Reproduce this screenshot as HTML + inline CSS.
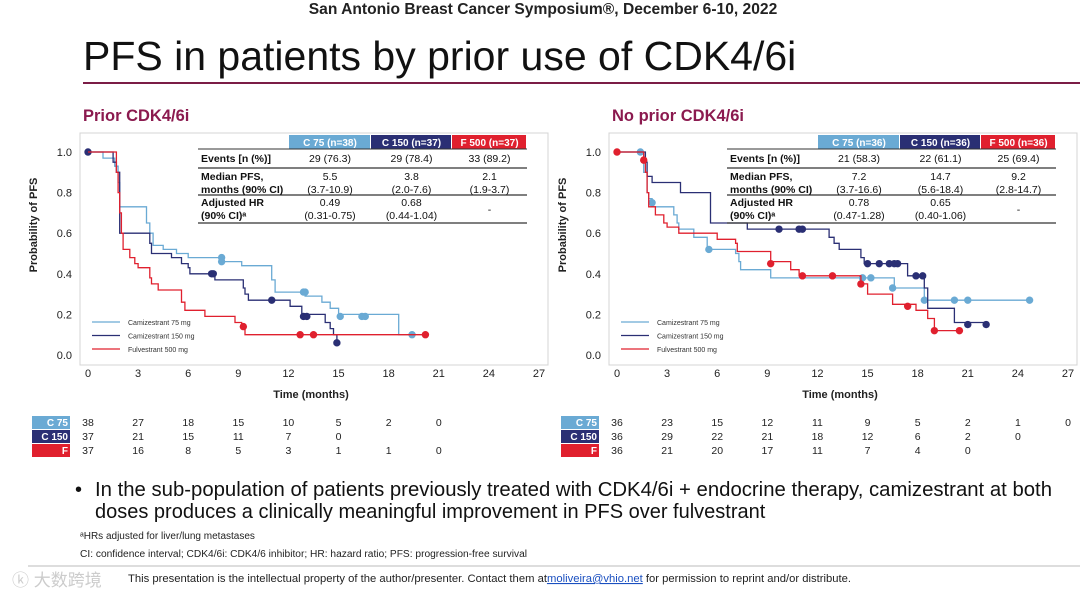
<!DOCTYPE html>
<html><head><meta charset="utf-8"><style>
body{margin:0;width:1080px;height:601px;background:#fff;overflow:hidden;font-family:"Liberation Sans",Arial,sans-serif}
svg{display:block}
text{font-family:"Liberation Sans",Arial,sans-serif}
</style></head><body>
<svg id="s" width="1080" height="601" viewBox="0 0 1080 601" xmlns="http://www.w3.org/2000/svg">
<text x="543" y="14" text-anchor="middle" font-size="15.6" font-weight="bold" fill="#222">San Antonio Breast Cancer Symposium®, December 6-10, 2022</text>
<text x="83" y="70" font-size="41" fill="#111">PFS in patients by prior use of CDK4/6i</text>
<line x1="83" y1="83" x2="1080" y2="83" stroke="#7b1d46" stroke-width="2"/>
<text x="83" y="121" font-size="16.5" font-weight="bold" fill="#8b1a4f">Prior CDK4/6i</text>
<text x="612" y="121" font-size="16.5" font-weight="bold" fill="#8b1a4f">No prior CDK4/6i</text>
<g id="charts"></g>
<text x="75" y="496" font-size="20" fill="#111">•</text>
<text x="95" y="496" font-size="20" fill="#111" textLength="957" lengthAdjust="spacingAndGlyphs">In the sub-population of patients previously treated with CDK4/6i + endocrine therapy, camizestrant at both</text>
<text x="95" y="518" font-size="20" fill="#111">doses produces a clinically meaningful improvement in PFS over fulvestrant</text>
<text x="80" y="539" font-size="10" fill="#222">ᵃHRs adjusted for liver/lung metastases</text>
<text x="80" y="557" font-size="10" fill="#222" textLength="447" lengthAdjust="spacingAndGlyphs">CI: confidence interval; CDK4/6i: CDK4/6 inhibitor; HR: hazard ratio; PFS: progression-free survival</text>
<line x1="28" y1="566" x2="1080" y2="566" stroke="#bbb" stroke-width="1"/>
<text x="128" y="582" font-size="11" fill="#222" textLength="723" lengthAdjust="spacingAndGlyphs">This presentation is the intellectual property of the author/presenter. Contact them at<tspan fill="#1a4fc0" text-decoration="underline">moliveira@vhio.net</tspan> for permission to reprint and/or distribute.</text>
<text x="12" y="586" font-size="17" fill="#ccc">ⓚ 大数跨境</text>
</svg>
<script>
// ---- data: left panel (prior CDK4/6i) ----
const L_c75_t=[0.9,1.6,1.8,1.9,3.5,3.7,3.9,4.5,5.3,6.0,8.0,9.2,11.0,11.2,13.0,14.0,14.5,15.0,18.6,19.4];
const L_c75_s=[0.97,0.93,0.85,0.73,0.65,0.6,0.54,0.52,0.5,0.48,0.46,0.44,0.37,0.31,0.29,0.26,0.23,0.2,0.1,0.1];
const L_c75_cx=[8.0,8.0,12.9,13.0,15.1,16.4,16.6,19.4];
const L_c75_cy=[0.48,0.46,0.31,0.31,0.19,0.19,0.19,0.1];
const L_c150_t=[1.5,1.7,1.9,3.7,3.8,5.0,5.6,6.0,6.1,7.6,9.3,9.4,9.6,12.1,12.8,14.2,14.5,14.7,14.9];
const L_c150_s=[0.95,0.9,0.6,0.55,0.5,0.48,0.45,0.43,0.4,0.37,0.33,0.3,0.27,0.24,0.2,0.16,0.13,0.1,0.07];
const L_c150_cx=[0,7.4,7.5,11.0,12.9,13.1,14.9];
const L_c150_cy=[1.0,0.4,0.4,0.27,0.19,0.19,0.06];
const L_f_t=[1.7,1.8,1.9,2.0,2.1,2.5,2.8,3.0,3.7,3.8,4.2,5.6,5.8,7.0,8.8,9.2,9.4,20.2];
const L_f_s=[0.9,0.8,0.7,0.6,0.52,0.48,0.45,0.43,0.38,0.35,0.32,0.26,0.22,0.19,0.16,0.14,0.1,0.1];
const L_f_cx=[9.3,12.7,13.5,20.2];
const L_f_cy=[0.14,0.1,0.1,0.1];
// ---- data: right panel (no prior CDK4/6i) ----
const R_c75_t=[1.6,1.8,1.9,2.1,3.4,3.6,3.7,4.6,5.4,7.1,7.3,7.4,9.2,16.6,18.4,24.7];
const R_c75_s=[0.9,0.8,0.77,0.73,0.69,0.65,0.62,0.58,0.52,0.5,0.46,0.42,0.38,0.33,0.27,0.27];
const R_c75_cx=[1.4,2.1,5.5,14.7,15.2,16.5,18.4,20.2,21.0,24.7];
const R_c75_cy=[1.0,0.75,0.52,0.38,0.38,0.33,0.27,0.27,0.27,0.27];
const R_c150_t=[1.7,1.8,2.1,3.8,5.6,7.8,12.7,13.0,13.3,14.6,14.8,17.4,18.4,18.6,20.2,22.1];
const R_c150_s=[0.95,0.88,0.85,0.8,0.65,0.62,0.58,0.55,0.52,0.48,0.45,0.39,0.33,0.23,0.16,0.16];
const R_c150_cx=[9.7,10.9,11.1,15.0,15.7,16.3,16.6,16.8,17.9,18.3,21.0,22.1];
const R_c150_cy=[0.62,0.62,0.62,0.45,0.45,0.45,0.45,0.45,0.39,0.39,0.15,0.15];
const R_f_t=[1.6,1.7,1.8,1.9,2.3,2.8,3.0,3.7,6.0,7.1,7.2,9.2,10.4,10.9,14.6,15.0,16.5,17.9,18.6,19.0,20.5];
const R_f_s=[0.96,0.9,0.8,0.73,0.69,0.65,0.63,0.6,0.57,0.55,0.51,0.46,0.42,0.39,0.35,0.3,0.25,0.22,0.18,0.12,0.12];
const R_f_cx=[0,1.6,9.2,11.1,12.9,14.6,17.4,19.0,20.5];
const R_f_cy=[1.0,0.96,0.45,0.39,0.39,0.35,0.24,0.12,0.12];
// ---- tables ----
const xTicks=[0,3,6,9,12,15,18,21,24,27];
const yTicks=[0,0.2,0.4,0.6,0.8,1.0];
const L_risk_c75=[38,27,18,15,10,5,2,0];
const L_risk_c150=[37,21,15,11,7,0];
const L_risk_f=[37,16,8,5,3,1,1,0];
const R_risk_c75=[36,23,15,12,11,9,5,2,1,0];
const R_risk_c150=[36,29,22,21,18,12,6,2,0];
const R_risk_f=[36,21,20,17,11,7,4,0];
const L_heads=["C 75 (n=38)","C 150 (n=37)","F 500 (n=37)"];
const R_heads=["C 75 (n=36)","C 150 (n=36)","F 500 (n=36)"];
const L_events=["29 (76.3)","29 (78.4)","33 (89.2)"];
const R_events=["21 (58.3)","22 (61.1)","25 (69.4)"];
const L_med=["5.5","3.8","2.1"], L_medci=["(3.7-10.9)","(2.0-7.6)","(1.9-3.7)"];
const R_med=["7.2","14.7","9.2"], R_medci=["(3.7-16.6)","(5.6-18.4)","(2.8-14.7)"];
const L_hr=["0.49","0.68","-"], L_hrci=["(0.31-0.75)","(0.44-1.04)",""];
const R_hr=["0.78","0.65","-"], R_hrci=["(0.47-1.28)","(0.40-1.06)",""];

const NS="http://www.w3.org/2000/svg";
const COL=["#6aaad4","#2a2f74","#e0202e"];
const root=document.getElementById('charts');
function el(tag,attrs,parent,txt){const e=document.createElementNS(NS,tag);for(const k in attrs)e.setAttribute(k,attrs[k]);if(txt!==undefined)e.textContent=txt;(parent||root).appendChild(e);return e;}

function panel(ox,P){
  const x0=ox+88,pxm=(451)/27;
  const X=t=>x0+t*pxm, Y=s=>355-s*203;
  const g=el('g',{});
  
  
  const fr=el('rect',{x:ox+80,y:133,width:468,height:232,fill:'none',stroke:'#d4d4d4'},g);
  
  
  xTicks.forEach(v=>{const t=el('text',{x:X(v),y:377,'text-anchor':'middle','font-size':11,fill:'#222'},g,String(v));
    
    });
  yTicks.forEach(v=>{const t=el('text',{x:ox+72,y:Y(v)+4,'text-anchor':'end','font-size':11,fill:'#222'},g,v.toFixed(1));
    
    });
  const xl=el('text',{x:ox+311,y:398,'text-anchor':'middle','font-size':11,'font-weight':'bold',fill:'#222'},g,'Time (months)');
  
  
  const yl=el('text',{x:0,y:0,transform:`translate(${ox+37},225) rotate(-90)`,'text-anchor':'middle','font-size':11,'font-weight':'bold',fill:'#222'},g,'Probability of PFS');
  
  
  const names=['camizestrant-75-curve','camizestrant-150-curve','fulvestrant-500-curve'];
  P.series.forEach((S,i)=>{
    let d=`M${X(0)},${Y(1)}`;
    S.t.forEach((t,j)=>{d+=` H${X(t).toFixed(1)} V${Y(S.s[j]).toFixed(1)}`;});
    const p=el('path',{d,fill:'none',stroke:COL[i],'stroke-width':1.3},g);
    
    
    S.cx.forEach((c,j)=>{const m=el('circle',{cx:X(c),cy:Y(S.cy[j]),r:3.7,fill:COL[i]},g);
      
      });
  });
  ['Camizestrant 75 mg','Camizestrant 150 mg','Fulvestrant 500 mg'].forEach((n,i)=>{
    const y=322+i*13.5;
    const l=el('line',{x1:ox+92,x2:ox+120,y1:y,y2:y,stroke:COL[i],'stroke-width':1.3},g);
    
    
    const t=el('text',{x:ox+128,y:y+3,'font-size':7,fill:'#333'},g,n);
    
    
  });
  const cols=[ox+289,ox+371,ox+452,ox+527];
  P.heads.forEach((h,i)=>{
    const r=el('rect',{x:cols[i],y:135,width:cols[i+1]-cols[i]-1,height:14,fill:COL[i]},g);
    
    
    const t=el('text',{x:(cols[i]+cols[i+1])/2,y:146,'text-anchor':'middle','font-size':10,'font-weight':'bold',fill:'#fff'},g,h);
    
    
  });
  [149,168,195,223].forEach((y,i)=>{const l=el('line',{x1:ox+198,x2:cols[3],y1:y,y2:y,stroke:'#333','stroke-width':i==0?1:1.2},g);
    
    });
  const rows=[['Events [n (%)]',P.ev,null,162],['Median PFS,',P.med,P.medci,180],['Adjusted HR',P.hr,P.hrci,206]];
  const sub=[null,'months (90% CI)','(90% CI)ᵃ'];
  rows.forEach((r,ri)=>{
    const a=el('text',{x:ox+201,y:r[3],'font-size':10.5,'font-weight':'bold',fill:'#111'},g,r[0]);
    
    
    if(sub[ri]){const b=el('text',{x:ox+201,y:r[3]+13,'font-size':10.5,'font-weight':'bold',fill:'#111'},g,sub[ri]);
      
      }
    r[1].forEach((v,i)=>{
      const cx=(cols[i]+cols[i+1])/2;
      const yy=(ri>0&&v==='-')?r[3]+7:r[3];
      const t=el('text',{x:cx,y:yy,'text-anchor':'middle','font-size':10.5,fill:'#111'},g,v);
      
      
      if(r[2]&&r[2][i]){const t2=el('text',{x:cx,y:r[3]+13,'text-anchor':'middle','font-size':10.5,fill:'#111'},g,r[2][i]);
        
        }
    });
  });
  const lab=['C 75','C 150','F'];
  P.risk.forEach((arr,i)=>{
    const y=416+i*14;
    const r=el('rect',{x:ox+32,y:y,width:38,height:13,fill:COL[i]},g);
    
    
    const t=el('text',{x:ox+68,y:y+10,'text-anchor':'end','font-size':10,'font-weight':'bold',fill:'#fff'},g,lab[i]);
    
    
    arr.forEach((v,j)=>{const n=el('text',{x:X(xTicks[j]),y:y+10,'text-anchor':'middle','font-size':10.5,fill:'#222'},g,String(v));
      
      });
  });
}
panel(0,{name:'prior-cdk46i-km-chart',heads:L_heads,ev:L_events,med:L_med,medci:L_medci,hr:L_hr,hrci:L_hrci,
  risk:[L_risk_c75,L_risk_c150,L_risk_f],
  series:[{t:L_c75_t,s:L_c75_s,cx:L_c75_cx,cy:L_c75_cy},{t:L_c150_t,s:L_c150_s,cx:L_c150_cx,cy:L_c150_cy},{t:L_f_t,s:L_f_s,cx:L_f_cx,cy:L_f_cy}]});
panel(529,{name:'no-prior-cdk46i-km-chart',heads:R_heads,ev:R_events,med:R_med,medci:R_medci,hr:R_hr,hrci:R_hrci,
  risk:[R_risk_c75,R_risk_c150,R_risk_f],
  series:[{t:R_c75_t,s:R_c75_s,cx:R_c75_cx,cy:R_c75_cy},{t:R_c150_t,s:R_c150_s,cx:R_c150_cx,cy:R_c150_cy},{t:R_f_t,s:R_f_s,cx:R_f_cx,cy:R_f_cy}]});
</script>
</body></html>
